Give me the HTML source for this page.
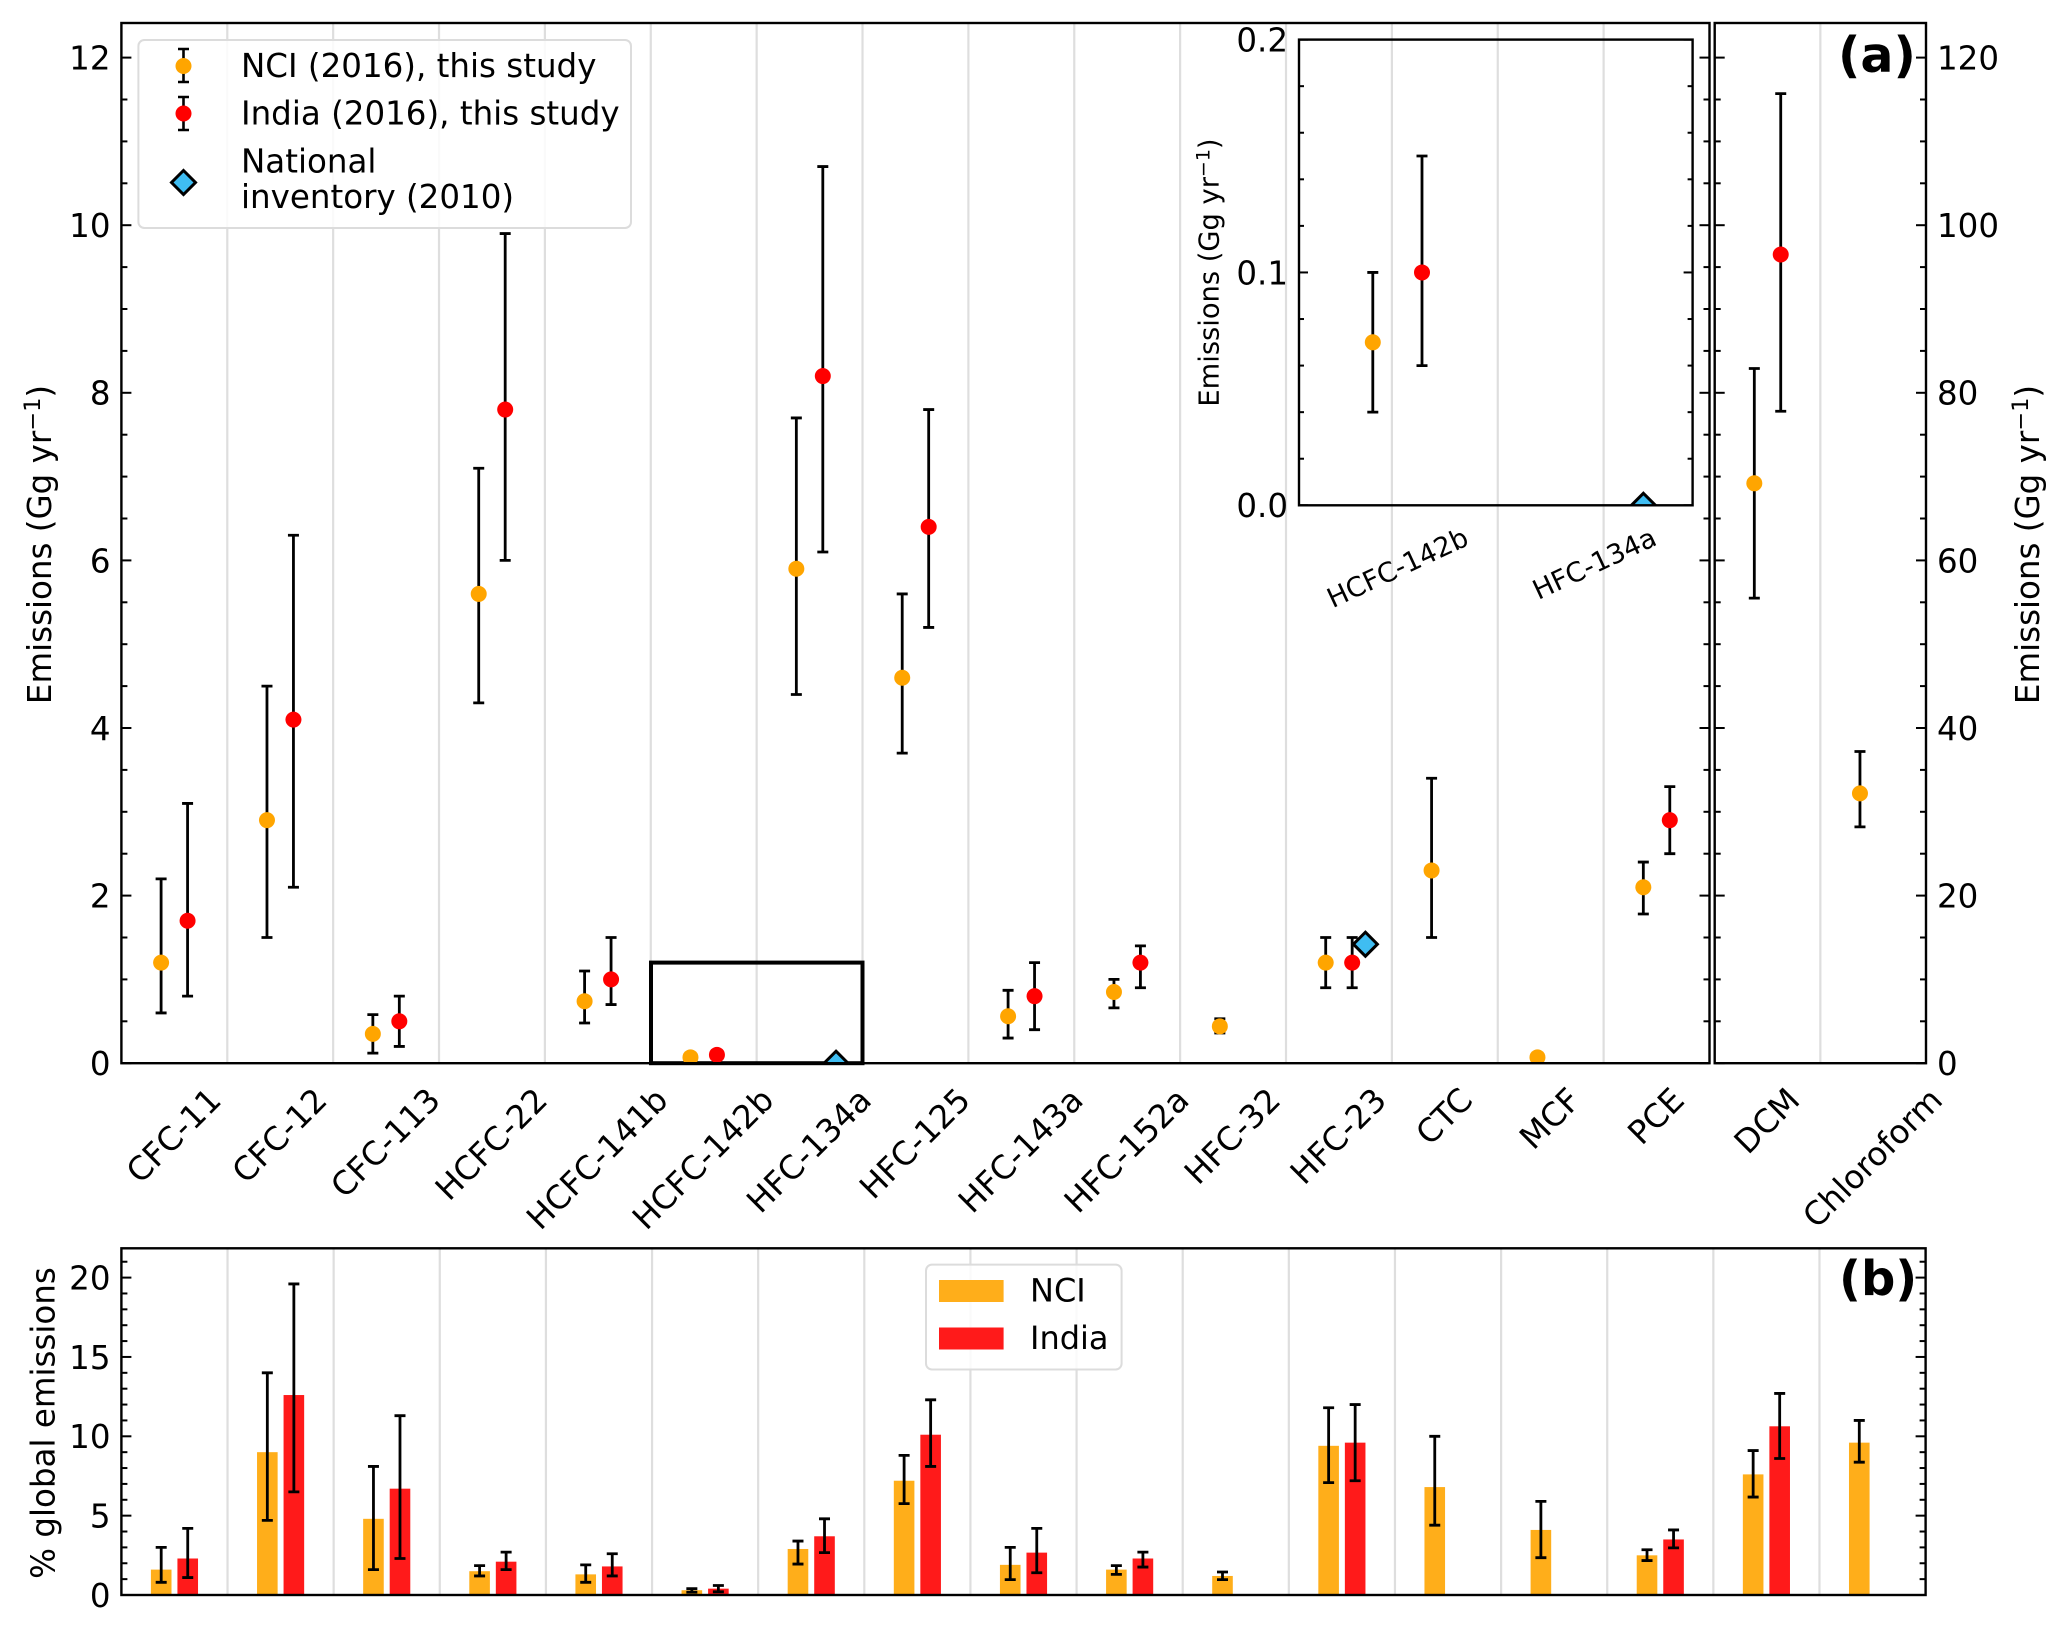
<!DOCTYPE html>
<html lang="en">
<head>
<meta charset="utf-8">
<title>Emissions chart</title>
<style>
html,body{margin:0;padding:0;background:#fff;}
svg{display:block;}
text{font-family:"DejaVu Sans","Liberation Sans",sans-serif;fill:#000;}
</style>
</head>
<body>
<svg id="chart" xmlns="http://www.w3.org/2000/svg" width="2067" height="1631" viewBox="0 0 2067 1631">
  <defs>
    <clipPath id="clip-main"><rect x="121.4" y="23" width="1588.1" height="1040.2"/></clipPath>
    <clipPath id="clip-right"><rect x="1714.7" y="23" width="211.3" height="1040.2"/></clipPath>
    <clipPath id="clip-inset"><rect x="1299" y="39.6" width="393.6" height="465.7"/></clipPath>
    <clipPath id="clip-bottom"><rect x="121.4" y="1248.3" width="1804.2" height="346.7"/></clipPath>
  </defs>
  <rect width="2067" height="1631" fill="#fff"/>
  <g id="grid-layer"></g>
  <rect x="651" y="962.6" width="211.5" height="100.6" fill="none" stroke="#000" stroke-width="4"/>
  <g id="series-layer"></g>
  <g id="tick-layer"></g>

  <rect x="121.4" y="23" width="1588.1" height="1040.2" fill="none" stroke="#000" stroke-width="2.4"/>
  <rect x="1714.7" y="23" width="211.3" height="1040.2" fill="none" stroke="#000" stroke-width="2.4"/>
  <rect x="121.4" y="1248.3" width="1804.2" height="346.7" fill="none" stroke="#000" stroke-width="2.4"/>
  <rect x="1299" y="39.6" width="393.6" height="465.7" fill="none" stroke="#000" stroke-width="2.4"/>

  <g>
    <rect x="138.4" y="40" width="492.6" height="188" rx="6" fill="#fff" fill-opacity="0.85" stroke="#dcdcdc" stroke-width="2"/>
    <g>
      <path d="M183.5 49V82M178 49H189M178 82H189" stroke="#000" stroke-width="2.6" fill="none"/>
      <circle cx="183.5" cy="66" r="8" fill="#ffa500"/>
      <text x="241" y="77" font-size="32.5">NCI (2016), this study</text>
    </g>
    <g>
      <path d="M183.5 97V130M178 97H189M178 130H189" stroke="#000" stroke-width="2.6" fill="none"/>
      <circle cx="183.5" cy="113.5" r="8" fill="#ff0000"/>
      <text x="241" y="124.5" font-size="32.5">India (2016), this study</text>
    </g>
    <g>
      <path d="M183.5 170.5L195.5 182.5L183.5 194.5L171.5 182.5Z" fill="#3fbdf2" stroke="#000" stroke-width="3"/>
      <text x="241" y="172.5" font-size="32.5">National</text>
      <text x="241" y="208" font-size="32.5">inventory (2010)</text>
    </g>
  </g>

  <g>
    <rect x="926" y="1264.6" width="195.6" height="104.9" rx="6" fill="#fff" fill-opacity="0.85" stroke="#dcdcdc" stroke-width="2"/>
    <g>
      <rect x="939" y="1280" width="64.6" height="22" fill="#ffae1a"/>
      <text x="1030" y="1301.5" font-size="32">NCI</text>
    </g>
    <g>
      <rect x="939" y="1327.5" width="64.6" height="22" fill="#ff1a1a"/>
      <text x="1030" y="1349" font-size="32">India</text>
    </g>
  </g>

  <text x="1838" y="72" font-size="49" font-weight="bold">(a)</text>
  <text x="1839" y="1295" font-size="48" font-weight="bold">(b)</text>

  <text transform="translate(51,544.5) rotate(-90)" text-anchor="middle" font-size="32.5">Emissions (Gg yr<tspan dy="-11" font-size="22.5">−1</tspan><tspan dy="11">)</tspan></text>
  <text transform="translate(2039,544.5) rotate(-90)" text-anchor="middle" font-size="32.5">Emissions (Gg yr<tspan dy="-11" font-size="22.5">−1</tspan><tspan dy="11">)</tspan></text>
  <text transform="translate(1218.5,272.5) rotate(-90)" text-anchor="middle" font-size="27.3">Emissions (Gg yr<tspan dy="-9" font-size="19">−1</tspan><tspan dy="9">)</tspan></text>
  <text transform="translate(54.5,1423) rotate(-90)" text-anchor="middle" font-size="32.5">% global emissions</text>
</svg>

<script>
// Categories
const categories = ["CFC-11","CFC-12","CFC-113","HCFC-22","HCFC-141b","HCFC-142b","HFC-134a","HFC-125","HFC-143a","HFC-152a","HFC-32","HFC-23","CTC","MCF","PCE","DCM","Chloroform"];
const insetCategories = ["HCFC-142b","HFC-134a"];

// Panel (a) emissions, Gg/yr
const nciEmissions     = [1.2,2.9,0.35,5.6,0.74,0.07,5.9,4.6,0.56,0.85,0.44,1.2,2.3,0.07,2.1,69.2,32.2];
const nciEmissionsLow  = [0.6,1.5,0.12,4.3,0.48,0.04,4.4,3.7,0.30,0.66,0.36,0.9,1.5,0.05,1.78,55.5,28.2];
const nciEmissionsHigh = [2.2,4.5,0.58,7.1,1.1,0.10,7.7,5.6,0.87,1.0,0.53,1.5,3.4,0.09,2.4,82.9,37.2];
const indiaEmissions     = [1.7,4.1,0.5,7.8,1.0,0.10,8.2,6.4,0.8,1.2,null,1.2,null,null,2.9,96.5,null];
const indiaEmissionsLow  = [0.8,2.1,0.2,6.0,0.7,0.06,6.1,5.2,0.4,0.9,null,0.9,null,null,2.5,77.8,null];
const indiaEmissionsHigh = [3.1,6.3,0.8,9.9,1.5,0.15,10.7,7.8,1.2,1.4,null,1.5,null,null,3.3,115.7,null];
const inventoryEmissions = [null,null,null,null,null,null,0,null,null,null,null,1.42,null,null,null,null,null];

// Inset emissions
const insetNci       = [0.07,null];
const insetNciLow    = [0.04,null];
const insetNciHigh   = [0.10,null];
const insetIndia     = [0.10,null];
const insetIndiaLow  = [0.06,null];
const insetIndiaHigh = [0.15,null];
const insetInventory = [null,0];

// Panel (b) % of global emissions
const nciShare     = [1.6,9.0,4.8,1.5,1.3,0.3,2.9,7.2,1.9,1.6,1.2,9.4,6.8,4.1,2.5,7.6,9.6];
const nciShareLow  = [0.8,4.7,1.6,1.2,0.8,0.18,1.95,5.76,0.97,1.3,0.97,7.08,4.4,2.35,2.17,6.17,8.37];
const nciShareHigh = [3.0,14.0,8.1,1.85,1.9,0.4,3.4,8.8,3.0,1.85,1.45,11.8,10.0,5.9,2.85,9.1,11.0];
const indiaShare     = [2.3,12.6,6.7,2.1,1.8,0.4,3.7,10.1,2.67,2.3,null,9.6,null,null,3.5,10.63,null];
const indiaShareLow  = [1.1,6.5,2.3,1.6,1.2,0.2,2.67,8.1,1.4,1.76,null,7.2,null,null,2.97,8.6,null];
const indiaShareHigh = [4.2,19.6,11.3,2.7,2.6,0.6,4.8,12.3,4.2,2.7,null,12.0,null,null,4.1,12.7,null];

// Tick labels
const mainYTicks   = [0,2,4,6,8,10,12];
const rightYTicks  = [0,20,40,60,80,100,120];
const insetYTicks  = ["0.0","0.1","0.2"];
const shareYTicks  = [0,5,10,15,20];

const NS = "http://www.w3.org/2000/svg";
const gridLayer = document.getElementById("grid-layer");
const seriesLayer = document.getElementById("series-layer");
const tickLayer = document.getElementById("tick-layer");
const svgRoot = document.getElementById("chart");

// Axis functions
const MAIN_LEFT = 121.4, MAIN_STEP = 105.873, RIGHT_LEFT = 1714.7, RIGHT_STEP = 105.65;
const PANEL_BOTTOM = 1063.2, UNIT_MAIN = 83.8;
const SHARE_LEFT = 121.4, SHARE_STEP = 106.13, SHARE_BOTTOM = 1595, UNIT_SHARE = 15.87;
const INSET_LEFT = 1299, INSET_STEP = 196.8, INSET_BOTTOM = 505.3, UNIT_INSET = 2328.5;
const xMain = function (i) { return i < 15 ? MAIN_LEFT + (i + 0.5) * MAIN_STEP : RIGHT_LEFT + (i - 15 + 0.5) * RIGHT_STEP; };
const stepFor = function (i) { return i < 15 ? MAIN_STEP : RIGHT_STEP; };
const yMain = function (v) { return PANEL_BOTTOM - v * UNIT_MAIN; };
const yRight = function (v) { return PANEL_BOTTOM - v * UNIT_MAIN / 10; };
const yFor = function (i, v) { return i < 15 ? yMain(v) : yRight(v); };
const xShare = function (i) { return SHARE_LEFT + (i + 0.5) * SHARE_STEP; };
const yShare = function (v) { return SHARE_BOTTOM - v * UNIT_SHARE; };
const xInset = function (i) { return INSET_LEFT + (i + 0.5) * INSET_STEP; };
const yInset = function (v) { return INSET_BOTTOM - v * UNIT_INSET; };

function node(parent, tag, attrs, name) {
  const el = document.createElementNS(NS, tag);
  for (const k in attrs) { el.setAttribute(k, attrs[k]); }
  
  
  parent.appendChild(el);
  return el;
}

function slug(s) { return String(s).toLowerCase().replace(/[^a-z0-9]+/g, '-'); }

function errorBar(parent, x, yLow, yHigh, name) {
  const halfCap = 5.5;
  node(parent, 'path', {
    d: 'M' + x + ' ' + yLow + 'V' + yHigh + 'M' + (x - halfCap) + ' ' + yLow + 'H' + (x + halfCap) + 'M' + (x - halfCap) + ' ' + yHigh + 'H' + (x + halfCap),
    fill: 'none', stroke: '#000', 'stroke-width': 2.8
  }, name);
}

function diamond(parent, x, y, name) {
  const r = 12;
  node(parent, 'path', {
    d: 'M' + x + ' ' + (y - r) + 'L' + (x + r) + ' ' + y + 'L' + x + ' ' + (y + r) + 'L' + (x - r) + ' ' + y + 'Z',
    fill: '#3fbdf2', stroke: '#000', 'stroke-width': 3
  }, name);
}

function vGrid(x, top, bottom, name) {
  node(gridLayer, 'line', { x1: x, x2: x, y1: top, y2: bottom, stroke: '#dedede', 'stroke-width': 2.2 }, name);
}

function yTick(x, y, dir, len, name) {
  node(tickLayer, 'line', { x1: x, x2: x + dir * len, y1: y, y2: y, stroke: '#000', 'stroke-width': 2 }, name);
}

function tickText(x, y, label, anchor, size, name) {
  const t = node(tickLayer, 'text', { x: x, y: y + size * 0.365, 'text-anchor': anchor, 'font-size': size }, name);
  t.textContent = label;
}

// Rotated x tick label: centred on its tick, top of the rotated bounds at yTop
function xLabel(cx, yTop, label, angle, size, name) {
  const t = node(tickLayer, 'text', { 'text-anchor': 'middle', 'font-size': size }, name);
  t.textContent = label;
  const w = t.getComputedTextLength();
  const a = angle * Math.PI / 180;
  const h = size * 0.76;
  const extent = w * Math.sin(a) + h * Math.cos(a);
  const cy = yTop + extent / 2;
  t.setAttribute('transform', 'translate(' + cx + ',' + cy + ') rotate(' + (-angle) + ') translate(0,' + (size * 0.36) + ')');
}

// Gridlines
for (let i = 1; i < 15; i++) {
  vGrid(MAIN_LEFT + i * MAIN_STEP, 23, PANEL_BOTTOM, 'panel-a-gridline');
}
vGrid(RIGHT_LEFT + RIGHT_STEP, 23, PANEL_BOTTOM, 'panel-a-right-gridline');
for (let i = 1; i < categories.length; i++) {
  vGrid(SHARE_LEFT + i * SHARE_STEP, 1248.3, SHARE_BOTTOM, 'panel-b-gridline');
}

// Panel (a) clip groups
const mainMarks = node(seriesLayer, 'g', { 'clip-path': 'url(#clip-main)' }, 'panel-a-main-series');
const rightMarks = node(seriesLayer, 'g', { 'clip-path': 'url(#clip-right)' }, 'panel-a-right-series');
const insetMarks = node(seriesLayer, 'g', { 'clip-path': 'url(#clip-inset)' }, 'inset-series');
const shareMarks = node(seriesLayer, 'g', { 'clip-path': 'url(#clip-bottom)' }, 'panel-b-series');

categories.forEach(function (cat, i) {
  const group = i < 15 ? mainMarks : rightMarks;
  const offset = 0.125 * stepFor(i);
  const key = slug(cat);
  if (nciEmissions[i] !== null) {
    const x = xMain(i) - offset;
    errorBar(group, x, yFor(i, nciEmissionsLow[i]), yFor(i, nciEmissionsHigh[i]), 'nci-error-bar-' + key);
    node(group, 'circle', { cx: x, cy: yFor(i, nciEmissions[i]), r: 8, fill: '#ffa500' }, 'nci-point-' + key);
  }
  if (indiaEmissions[i] !== null) {
    const x = xMain(i) + offset;
    errorBar(group, x, yFor(i, indiaEmissionsLow[i]), yFor(i, indiaEmissionsHigh[i]), 'india-error-bar-' + key);
    node(group, 'circle', { cx: x, cy: yFor(i, indiaEmissions[i]), r: 8, fill: '#ff0000' }, 'india-point-' + key);
  }
  if (inventoryEmissions[i] !== null) {
    diamond(group, xMain(i) + 2 * offset, yFor(i, inventoryEmissions[i]), 'inventory-point-' + key);
  }
});

// Inset series
insetCategories.forEach(function (cat, i) {
  const offset = 0.125 * INSET_STEP * 1;
  const key = slug(cat);
  if (insetNci[i] !== null) {
    const x = xInset(i) - offset;
    errorBar(insetMarks, x, yInset(insetNciLow[i]), yInset(insetNciHigh[i]), 'inset-nci-error-bar-' + key);
    node(insetMarks, 'circle', { cx: x, cy: yInset(insetNci[i]), r: 8, fill: '#ffa500' }, 'inset-nci-point-' + key);
  }
  if (insetIndia[i] !== null) {
    const x = xInset(i) + offset;
    errorBar(insetMarks, x, yInset(insetIndiaLow[i]), yInset(insetIndiaHigh[i]), 'inset-india-error-bar-' + key);
    node(insetMarks, 'circle', { cx: x, cy: yInset(insetIndia[i]), r: 8, fill: '#ff0000' }, 'inset-india-point-' + key);
  }
  if (insetInventory[i] !== null) {
    diamond(insetMarks, xInset(i) + 2 * offset, yInset(insetInventory[i]), 'inset-inventory-point-' + key);
  }
});

// Panel (b) bars
categories.forEach(function (cat, i) {
  const offset = 0.125 * SHARE_STEP;
  const barW = 20.6;
  const key = slug(cat);
  if (nciShare[i] !== null) {
    const x = xShare(i) - offset;
    node(shareMarks, 'rect', { x: x - barW / 2, y: yShare(nciShare[i]), width: barW, height: SHARE_BOTTOM - yShare(nciShare[i]), fill: '#ffae1a' }, 'nci-bar-' + key);
    errorBar(shareMarks, x, yShare(nciShareLow[i]), yShare(nciShareHigh[i]), 'nci-bar-error-' + key);
  }
  if (indiaShare[i] !== null) {
    const x = xShare(i) + offset;
    node(shareMarks, 'rect', { x: x - barW / 2, y: yShare(indiaShare[i]), width: barW, height: SHARE_BOTTOM - yShare(indiaShare[i]), fill: '#ff1a1a' }, 'india-bar-' + key);
    errorBar(shareMarks, x, yShare(indiaShareLow[i]), yShare(indiaShareHigh[i]), 'india-bar-error-' + key);
  }
});

// Panel (a) y ticks (major + minor), both sides of both sub-panels
for (let k = 0; k * 0.5 <= 12.3; k++) {
  const v = k * 0.5;
  const y = yMain(v);
  const major = k % 4 === 0;
  const len = major ? 10 : 6;
  yTick(MAIN_LEFT, y, 1, len, 'panel-a-left-tick');
  yTick(1709.5, y, -1, len, 'panel-a-inner-right-tick');
  yTick(RIGHT_LEFT, y, 1, len, 'panel-a-inner-left-tick');
  yTick(1926, y, -1, len, 'panel-a-right-tick');
}
mainYTicks.forEach(function (v) {
  tickText(110.5, yMain(v), v, 'end', 32.5, 'left-y-tick-label-' + v);
});
rightYTicks.forEach(function (v) {
  tickText(1937, yRight(v), v, 'start', 32.5, 'right-y-tick-label-' + v);
});

// Inset y ticks
for (let k = 0; k <= 10; k++) {
  const y = yInset(k * 0.02);
  const major = k % 5 === 0;
  const len = major ? 9 : 5;
  yTick(INSET_LEFT, y, 1, len, 'inset-left-tick');
  yTick(1692.6, y, -1, len, 'inset-right-tick');
}
insetYTicks.forEach(function (label) {
  tickText(1288, yInset(parseFloat(label)), label, 'end', 32.5, 'inset-y-tick-label-' + slug(label));
});

// Panel (b) y ticks
for (let k = 0; k <= 21; k++) {
  const y = yShare(k);
  const major = k % 5 === 0;
  const len = major ? 10 : 6;
  yTick(SHARE_LEFT, y, 1, len, 'panel-b-left-tick');
  yTick(1925.6, y, -1, len, 'panel-b-right-tick');
}
shareYTicks.forEach(function (v) {
  tickText(110.5, yShare(v), v, 'end', 32.5, 'panel-b-y-tick-label-' + v);
});

// X tick labels
categories.forEach(function (cat, i) {
  xLabel(xMain(i) - 1, 1085, cat, 45, 32.5, 'x-tick-label-' + slug(cat));
});
insetCategories.forEach(function (cat, i) {
  xLabel(xInset(i), 526, cat, 25, 27, 'inset-x-tick-label-' + slug(cat));
});
</script>
</body>
</html>
